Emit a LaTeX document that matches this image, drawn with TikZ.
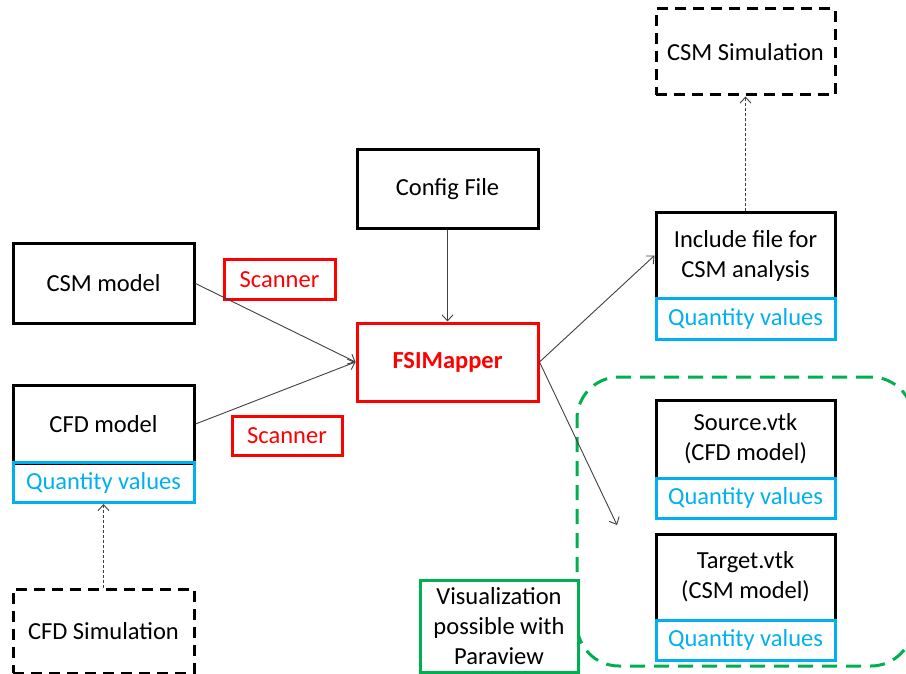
\documentclass[tikz,border=0pt]{standalone}
\usepackage{fontspec}
\setmainfont{Carlito}
\usetikzlibrary{arrows.meta}
\definecolor{qblue}{HTML}{00B0F0}
\definecolor{vgreen}{HTML}{00B050}
\definecolor{conn}{HTML}{404040}
\begin{document}
\begin{tikzpicture}[x=1pt,y=-1pt,
  every node/.style={font=\fontsize{24.5}{30}\selectfont, inner sep=0pt, align=center},
  blk/.style={draw=black, line width=3, minimum width=181},
  dblk/.style={draw=black, line width=3, minimum width=181, dash pattern=on 11 off 7},
  qv/.style={draw=qblue, text=qblue, line width=3, minimum width=181, minimum height=40},
  scan/.style={draw=red, text=red, line width=3, minimum height=39},
  conn/.style={draw=conn, line width=0.9, -{Straight Barb[length=6,width=11]}},
  dconn/.style={conn, dash pattern=on 3 off 2}
]
\clip (0,0) rectangle (906,674);
\fill[white] (0,0) rectangle (906,674);

% green group frame
\node[draw=vgreen, line width=3, dash pattern=on 15 off 9, rounded corners=42,
      minimum width=336, minimum height=289] (grp) at (745,521.5) {};

% left column
\node[blk, minimum height=79] (csm) at (103.5,283.5) {CSM model};
\node[blk, minimum height=78] (cfd) at (103.5,424) {CFD model};
\node[qv] (cfdq) at (103.5,482.5) {Quantity values};
\node[dblk, minimum height=84] (cfdsim) at (103.5,631) {CFD Simulation};

% scanners
\node[scan, minimum width=111] (scan1) at (279.5,279.5) {Scanner};
\node[scan, minimum width=110] (scan2) at (287,436) {Scanner};

% centre
\node[blk, minimum height=79] (config) at (447.5,189.5) {Config File};
\node[draw=red, line width=3, minimum width=181, minimum height=78, text=red, font=\fontsize{24.5}{30}\selectfont\bfseries] (fsi) at (447.5,362) {FSIMapper};

% right column
\node[dblk, minimum width=179, minimum height=86] (csmsim) at (745.5,52) {CSM Simulation};
\node[blk, minimum width=179, minimum height=85] (inc) at (745.5,255.5) {Include file for\\CSM analysis};
\node[qv, minimum width=179, minimum height=41] (incq) at (745.5,318.5) {Quantity values};
\node[blk, minimum width=179, minimum height=78] (src) at (745.5,439) {Source.vtk\\(CFD model)};
\node[qv, minimum width=179] (srcq) at (745.5,498) {Quantity values};
\node[blk, minimum width=179, minimum height=86] (tgt) at (745.5,577) {Target.vtk\\(CSM model)};
\node[qv, minimum width=179] (tgtq) at (745.5,640) {Quantity values};

\node[draw=vgreen, fill=white, line width=3, minimum width=158, minimum height=92] (vis) at (499,626) {Visualization\\possible with\\Paraview};

% connectors
\coordinate (vend) at (617,525);
\draw[conn] (csm.east) -- (fsi.west);
\draw[conn] (cfd.east) -- (fsi.west);
\draw[conn] (config.south) -- (fsi.north);
\draw[conn] (fsi.east) -- (inc.west);
\draw[conn] (fsi.east) -- (vend);
\draw[dconn] (inc.north) -- (csmsim.south);
\draw[dconn] (cfdsim.north) -- (cfdq.south);
\end{tikzpicture}
\end{document}
